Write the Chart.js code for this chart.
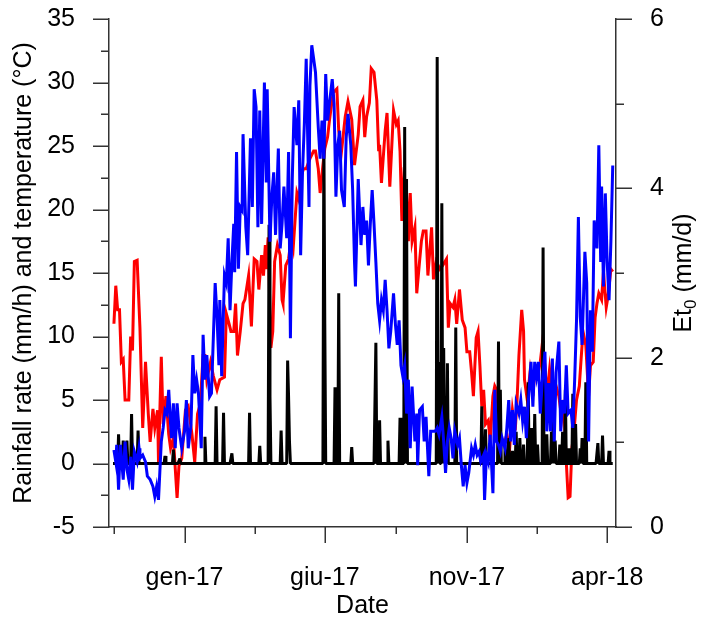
<!DOCTYPE html>
<html>
<head>
<meta charset="utf-8">
<title>Rainfall rate, temperature and Et0</title>
<script src="https://cdn.jsdelivr.net/npm/chart.js@4.4.1/dist/chart.umd.min.js"></script>
<style>
  html, body { margin: 0; padding: 0; background: #fff; }
</style>
</head>
<body>
<canvas id="graph" width="703" height="622"></canvas>
<script>
// days are counted from 1 Jan 2017 (gen-17 = 0)
const xTickDays = [-75.5, 0, 75.5, 151, 227.5, 304, 379.5, 455];
const xTickLabels = ["", "gen-17", "", "giu-17", "", "nov-17", "", "apr-18"];
const leftTicks = [-5, -2.5, 0, 2.5, 5, 7.5, 10, 12.5, 15, 17.5, 20, 22.5, 25, 27.5, 30, 32.5, 35];
const rightTicks = [0, 1, 2, 3, 4, 5, 6];

// temperature (°C), left axis
const tempDays = [-76, -74, -72, -70, -68, -66, -64, -60, -58, -56, -54, -51, -48, -45, -42, -39, -37, -34, -32, -29,
  -28, -25, -23, -20, -17, -15, -12, -8, -6, -3, 1, 4, 8, 11, 14, 17, 20, 22, 24, 28,
  31, 35, 38, 43, 45, 48, 50, 53, 55, 57, 60, 63, 65, 69, 72, 75, 78, 80, 83, 85,
  87, 88, 90, 93, 95, 97, 100, 103, 105, 106, 109, 112, 115, 117, 121, 123, 126, 128, 131, 135,
  139, 141, 144, 146, 149, 151, 154, 156, 160, 164, 166, 169, 173, 176, 180, 183, 187, 189, 192, 194,
  196, 199, 201, 204, 207, 209, 210, 212, 216, 218, 221, 225, 228, 230, 232, 234, 236, 239, 241, 243,
  245, 248, 250, 253, 255, 257, 260, 262, 266, 268, 271, 275, 278, 282, 284, 286, 289, 291, 293, 296,
  299, 302, 304, 307, 309, 311, 314, 316, 318, 320, 322, 324, 327, 329, 332, 334, 336, 339, 341, 344,
  347, 350, 353, 356, 358, 360, 363, 365, 366, 369, 372, 375, 377, 380, 383, 385, 388, 390, 393, 397,
  400, 403, 406, 408, 411, 413, 415, 417, 419, 422, 425, 427, 429, 432, 435, 437, 440, 442, 444, 446,
  449, 451, 454, 456, 459, 461];
const tempValues = [11.0, 14.0, 12.1, 12.1, 8.0, 8.2, 5.0, 5.0, 10.0, 8.9, 15.9, 16.0, 10.7, 2.8, 8.0, 3.9, 1.7, 4.3, 2.8, 4.2,
  0.1, 8.4, 3.1, 5.3, 2.3, 1.2, 2.0, -2.7, -0.2, 0.4, 4.2, 4.5, 2.3, 0.1, 3.9, 4.7, 8.5, 8.5, 6.6, 8.0,
  6.9, 5.8, 6.6, 6.8, 11.8, 11.0, 10.4, 10.4, 12.6, 8.5, 10.4, 12.6, 12.9, 14.8, 10.8, 16.1, 15.9, 13.7, 16.4, 14.8,
  17.2, 15.3, 17.8, 9.1, 10.4, 15.9, 17.2, 16.4, 12.9, 12.6, 15.6, 16.1, 17.8, 17.0, 21.3, 20.8, 22.7, 23.2, 23.2, 24.0,
  24.6, 24.6, 23.2, 21.3, 23.5, 24.8, 25.7, 27.0, 29.2, 29.5, 26.2, 24.6, 27.3, 28.5, 27.1, 23.5, 25.9, 28.1, 28.6, 25.7,
  27.3, 28.4, 31.1, 30.8, 28.6, 24.6, 25.1, 22.1, 26.2, 27.6, 21.8, 27.8, 26.7, 27.0, 24.6, 19.1, 22.4, 21.3, 17.5, 21.3,
  17.5, 18.6, 13.4, 15.9, 17.5, 18.3, 18.3, 14.8, 18.6, 14.5, 15.9, 15.3, 15.6, 16.1, 10.7, 12.6, 12.3, 12.9, 11.0, 13.7,
  11.3, 10.7, 8.8, 8.8, 7.2, 5.3, 9.9, 10.4, 7.7, 4.5, 5.8, 3.1, 3.4, 1.7, 5.3, 6.1, 5.8, 2.6, 1.7, 1.5,
  2.3, 1.2, 4.2, 2.6, 5.0, 8.5, 12.1, 10.4, 6.6, 5.0, 7.2, 5.3, 7.2, 6.8, 8.0, 9.3, 7.7, 5.3, 7.4, 4.5,
  6.1, 5.3, 3.6, 5.0, 0.1, -2.7, -2.6, 1.2, 2.3, 5.0, 6.1, 8.3, 10.4, 9.3, 5.3, 7.7, 8.0, 11.5, 12.6, 13.4,
  12.9, 15.1, 12.3, 13.2, 15.3, 15.1];

// Et0 (mm/d), right axis
const etDays = [-76, -74, -73, -71, -69, -66, -64, -62, -60, -58, -56, -54, -51, -49, -48, -45, -42, -40, -37, -34,
  -32, -30, -28, -25, -23, -21, -19, -17, -15, -14, -12, -10, -8, -6, -5, -3, 0, 2, 4, 7,
  9, 11, 13, 15, 18, 20, 22, 24, 27, 29, 31, 33, 35, 37, 38, 40, 43, 45, 47, 49,
  51, 53, 54, 56, 58, 60, 62, 63, 66, 68, 71, 73, 75, 77, 79, 81, 83, 86, 88, 89,
  92, 94, 96, 98, 101, 103, 105, 107, 110, 112, 114, 116, 118, 121, 123, 125, 127, 129, 131, 134,
  135, 137, 139, 141, 144, 146, 148, 150, 152, 154, 156, 159, 161, 163, 165, 167, 169, 172, 174, 176,
  179, 181, 183, 184, 187, 190, 192, 194, 196, 198, 200, 202, 204, 206, 208, 210, 212, 214, 216, 218,
  220, 222, 225, 227, 229, 231, 233, 235, 237, 239, 241, 243, 245, 248, 250, 251, 253, 256, 258, 260,
  263, 265, 268, 270, 272, 274, 277, 279, 281, 283, 285, 287, 289, 291, 294, 296, 298, 300, 302, 304,
  306, 309, 311, 313, 315, 317, 319, 322, 323, 325, 327, 329, 332, 334, 336, 338, 340, 342, 345, 347,
  349, 351, 353, 355, 357, 360, 362, 364, 366, 368, 370, 373, 375, 377, 379, 381, 383, 385, 388, 390,
  392, 394, 396, 398, 400, 403, 405, 407, 409, 411, 413, 416, 418, 420, 422, 424, 426, 428, 431, 433,
  435, 437, 439, 441, 444, 446, 448, 449, 451, 453, 455, 457, 459, 461];
const etValues = [0.91, 0.77, 0.97, 0.44, 0.97, 0.56, 1.01, 0.68, 0.56, 0.83, 0.44, 0.89, 0.77, 0.93, 0.81, 0.85, 0.77, 0.60, 0.56, 0.48,
  0.36, 0.48, 0.32, 1.01, 1.17, 1.38, 1.34, 1.62, 1.21, 1.05, 1.46, 0.93, 1.46, 1.17, 1.09, 0.93, 1.13, 1.50, 0.93, 1.21,
  2.03, 1.58, 1.74, 1.58, 0.93, 2.27, 1.74, 2.03, 1.54, 1.58, 2.23, 2.88, 2.48, 1.91, 2.68, 1.78, 2.97, 2.88, 3.41, 2.56,
  3.13, 3.58, 3.01, 4.43, 3.05, 3.78, 3.74, 4.64, 3.54, 3.21, 4.59, 3.78, 5.17, 4.96, 3.54, 4.92, 3.58, 5.25, 4.07, 5.17,
  3.37, 3.90, 4.19, 3.45, 4.47, 3.29, 3.58, 4.02, 3.41, 4.43, 2.23, 4.11, 4.96, 4.51, 5.04, 3.21, 4.19, 4.76, 5.53, 3.78,
  5.21, 5.69, 5.53, 5.37, 4.72, 4.35, 4.80, 4.35, 5.35, 4.80, 5.00, 5.29, 5.00, 3.90, 4.51, 4.68, 3.98, 3.78, 4.59, 4.88,
  4.51, 3.98, 3.13, 2.84, 4.11, 3.33, 3.78, 3.45, 3.62, 3.09, 3.58, 3.98, 3.58, 3.13, 2.64, 2.44, 2.68, 2.56, 2.92, 2.56,
  2.11, 2.31, 2.76, 2.40, 2.15, 2.44, 1.91, 1.78, 1.91, 1.34, 1.74, 0.93, 1.66, 1.01, 1.34, 0.73, 1.38, 1.42, 1.01, 1.30,
  0.60, 1.13, 1.13, 1.13, 1.17, 1.09, 1.30, 1.01, 0.64, 1.01, 1.17, 1.05, 0.81, 1.13, 0.97, 1.05, 0.73, 0.48, 0.73, 0.52,
  0.64, 0.93, 0.85, 0.97, 0.85, 0.89, 0.77, 0.85, 0.32, 0.85, 0.77, 1.09, 0.40, 1.62, 1.01, 0.97, 0.89, 1.05, 0.93, 1.17,
  1.50, 1.01, 1.38, 0.97, 1.46, 1.34, 1.50, 1.25, 1.42, 1.05, 1.46, 1.95, 1.42, 1.95, 1.78, 1.95, 1.34, 1.70, 2.07, 1.13,
  1.70, 1.13, 1.99, 1.01, 1.82, 2.19, 1.13, 1.50, 1.34, 1.91, 1.34, 1.38, 1.17, 1.74, 2.44, 3.66, 2.48, 2.15, 3.25, 2.88,
  1.01, 2.56, 2.07, 3.62, 3.29, 4.51, 3.13, 4.02, 2.84, 3.94, 3.13, 2.68, 3.37, 4.27];

// rainfall rate (mm/h): days with rain, every other day of the record is 0
const firstDay = -77;
const lastDay = 461;
const rainDays = [-71, -66, -62, -57, -50, -21, -12, -5, 22, 34, 42, 51, 70, 81, 91, 92, 104, 111, 112, 113,
  150, 151, 162, 166, 180, 206, 210, 219, 232, 237, 239, 272, 274, 277, 279, 281, 283, 292, 320, 324,
  338, 340, 345, 349, 353, 357, 361, 365, 370, 373, 377, 380, 386, 390, 395, 397, 399, 404, 407, 410,
  414, 418, 421, 426, 428, 432, 445, 450, 457];
const rainValues = [2.3, 1.8, 1.8, 3.9, 2.6, 0.6, 1.1, 0.4, 2.1, 4.5, 4.0, 0.8, 4.0, 1.4, 18.8, 5.3, 2.6, 8.1, 5.3, 1.7,
  26.0, 11.0, 6.0, 13.4, 1.3, 9.5, 3.4, 1.8, 3.6, 26.5, 22.4, 32.0, 8.0, 20.5, 9.1, 5.0, 7.9, 10.7, 4.5, 2.7,
  9.6, 5.8, 1.5, 2.0, 1.0, 2.5, 2.0, 1.5, 6.4, 2.8, 3.9, 1.5, 17.0, 2.3, 2.5, 4.5, 1.8, 1.5, 2.5, 5.8,
  1.2, 5.5, 3.1, 1.2, 2.0, 6.4, 1.6, 2.2, 1.0];

const axisColor = "#333333";
const police = "'Liberation Sans', Arial, sans-serif";

const temperature = tempDays.map((d, i) => ({ x: d, y: tempValues[i] }));
const et0 = etDays.map((d, i) => ({ x: d, y: etValues[i] }));
const pluie = [];
for (let d = firstDay; d <= lastDay; d++) {
    const i = rainDays.indexOf(d);
    pluie.push({ x: d, y: i >= 0 ? rainValues[i] : 0 });
}

// tick marks (major / minor) and the right title with its subscript
const axesPlugin = {
    id: "axesPlugin",
    afterDraw(chart) {
        const { ctx, chartArea: a, scales } = chart;
        ctx.save();
        ctx.strokeStyle = axisColor;
        ctx.lineWidth = 1.5;
        ctx.beginPath();
        leftTicks.forEach(v => {
            const y = Math.round(scales.y.getPixelForValue(v)) + 0.25;
            const len = v % 5 === 0 ? 16 : 8;
            ctx.moveTo(a.left - len, y);
            ctx.lineTo(a.left, y);
        });
        rightTicks.forEach(v => {
            const y = Math.round(scales.y1.getPixelForValue(v)) + 0.25;
            const len = v % 2 === 0 ? 16 : 8;
            ctx.moveTo(a.right, y);
            ctx.lineTo(a.right + len, y);
        });
        xTickDays.forEach((v, i) => {
            const x = Math.round(scales.x.getPixelForValue(v)) + 0.25;
            const len = xTickLabels[i] ? 16 : 7;
            ctx.moveTo(x, a.bottom);
            ctx.lineTo(x, a.bottom + len);
        });
        ctx.stroke();

        // Et0 (mm/d) title
        const big = "25px " + police;
        const small = "17px " + police;
        ctx.font = big;
        const w1 = ctx.measureText("Et").width;
        const w3 = ctx.measureText(" (mm/d)").width;
        ctx.font = small;
        const w2 = ctx.measureText("0").width;
        const total = w1 + w2 + w3;
        ctx.translate(684, (a.top + a.bottom) / 2);
        ctx.rotate(-Math.PI / 2);
        ctx.fillStyle = "#000";
        ctx.textBaseline = "middle";
        ctx.textAlign = "left";
        ctx.font = big;
        ctx.fillText("Et", -total / 2, 0);
        ctx.font = small;
        ctx.fillText("0", -total / 2 + w1, 7);
        ctx.font = big;
        ctx.fillText(" (mm/d)", -total / 2 + w1 + w2, 0);
        ctx.restore();
    }
};

// invisible Chart.js tick marks: they only push the labels away from the axes
const hiddenGrid = length => ({
    display: true,
    drawOnChartArea: false,
    drawTicks: true,
    tickLength: length,
    tickColor: "rgba(0,0,0,0)"
});

const graph = document.getElementById("graph").getContext("2d");
new Chart(graph, {
    type: "line",
    data: {
        datasets: [
            {
                label: "Et0",
                data: et0,
                yAxisID: "y1",
                borderColor: "#0000ff",
                borderWidth: 3,
                pointRadius: 0,
                order: 1
            },
            {
                label: "Rainfall rate",
                data: pluie,
                yAxisID: "y",
                borderColor: "#000000",
                borderWidth: 3,
                borderJoinStyle: "bevel",
                pointRadius: 0,
                order: 2
            },
            {
                label: "Temperature",
                data: temperature,
                yAxisID: "y",
                borderColor: "#ff0000",
                borderWidth: 3,
                pointRadius: 0,
                order: 3
            }
        ]
    },
    options: {
        responsive: false,
        animation: false,
        layout: { padding: { top: 19, left: 0, right: 0, bottom: 0 } },
        plugins: {
            legend: { display: false },
            tooltip: { enabled: false }
        },
        scales: {
            x: {
                type: "linear",
                min: -81.3,
                max: 464.5,
                afterFit: s => { s.height = 95; },
                afterBuildTicks: s => { s.ticks = xTickDays.map(v => ({ value: v })); },
                grid: hiddenGrid(32),
                border: { display: true, color: axisColor, width: 1.5 },
                ticks: {
                    autoSkip: false,
                    maxRotation: 0,
                    minRotation: 0,
                    padding: 4,
                    color: "#000",
                    font: { family: police, size: 25 },
                    callback: v => xTickLabels[xTickDays.indexOf(v)] || ""
                },
                title: {
                    display: true,
                    text: "Date",
                    color: "#000",
                    font: { family: police, size: 25 },
                    padding: { top: 0, bottom: 1 }
                }
            },
            y: {
                position: "left",
                min: -5,
                max: 35,
                afterFit: s => { s.width = 109; },
                grid: hiddenGrid(30),
                border: { display: true, color: axisColor, width: 1.5 },
                ticks: {
                    stepSize: 5,
                    padding: 4,
                    color: "#000",
                    font: { family: police, size: 25 }
                },
                title: {
                    display: true,
                    text: "Rainfall rate (mm/h) and temperature (°C)",
                    color: "#000",
                    font: { family: police, size: 25 },
                    padding: { top: 9, bottom: 0 }
                }
            },
            y1: {
                position: "right",
                min: 0,
                max: 6,
                afterFit: s => { s.width = 87; },
                grid: hiddenGrid(30),
                border: { display: true, color: axisColor, width: 1.5 },
                ticks: {
                    stepSize: 2,
                    padding: 4,
                    color: "#000",
                    font: { family: police, size: 25 }
                }
            }
        }
    },
    plugins: [axesPlugin]
});
</script>
</body>
</html>
